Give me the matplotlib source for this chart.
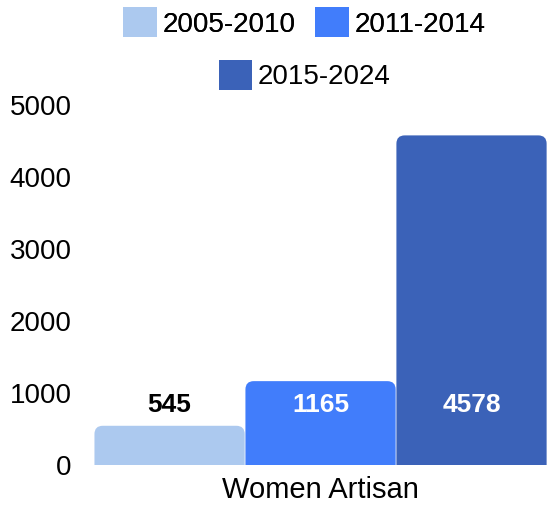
import matplotlib.pyplot as plt
from matplotlib.patches import FancyBboxPatch
from matplotlib.patches import Patch

plt.rcParams['font.family'] = ['Liberation Sans', 'DejaVu Sans']

# Data
category = "Women Artisan"
periods = ["2005-2010", "2011-2014", "2015-2024"]
counts = [545, 1165, 4578]
colors = ["#acc9ef", "#417dfb", "#3b62b8"]
label_colors = ["black", "white", "white"]

fig = plt.figure(figsize=(5.47, 5.09), dpi=100)
ax = fig.add_axes([0.172, 0.0864, 0.828, 0.7073])

xs = range(len(counts))
bars = ax.bar(xs, counts, width=0.995, color=colors)
ax.set_xlim(-0.5, 2.5)
ax.set_ylim(0, 5000)

# swap plain bars for ones with rounded top corners
r_x = 0.055
aspect = (5000 / 360) / (3 / 454)
for b, c in zip(bars, colors):
    x, w, h = b.get_x(), b.get_width(), b.get_height()
    b.remove()
    ax.add_patch(FancyBboxPatch((x, -300), w, h + 300,
                                boxstyle=f"round,pad=0,rounding_size={r_x}",
                                mutation_aspect=aspect, fc=c, ec="none"))

for x, v, lc in zip(xs, counts, label_colors):
    ax.text(x, 830, str(v), ha="center", va="center", fontsize=19,
            fontweight="bold", color=lc)

ax.set_xticks([1])
ax.set_xticklabels([category], fontsize=21)
ax.set_yticks([0, 1000, 2000, 3000, 4000, 5000])
ax.tick_params(axis="y", length=0, labelsize=20, pad=16)
ax.tick_params(axis="x", length=0, pad=8)
for s in ax.spines.values():
    s.set_visible(False)

handles = [Patch(fc=c, ec="none") for c in colors]
leg1 = fig.legend(handles[:2], periods[:2], loc="center", ncol=2,
                  bbox_to_anchor=(0.556, 0.956), frameon=False, fontsize=20,
                  handlelength=1.22, handleheight=1.3, handletextpad=0.2,
                  columnspacing=0.7)
fig.legend(handles[2:], periods[2:], loc="center",
           bbox_to_anchor=(0.557, 0.853), frameon=False, fontsize=20,
           handlelength=1.22, handleheight=1.3, handletextpad=0.2)
fig.add_artist(leg1)

fig.savefig("out.png", dpi=100)
